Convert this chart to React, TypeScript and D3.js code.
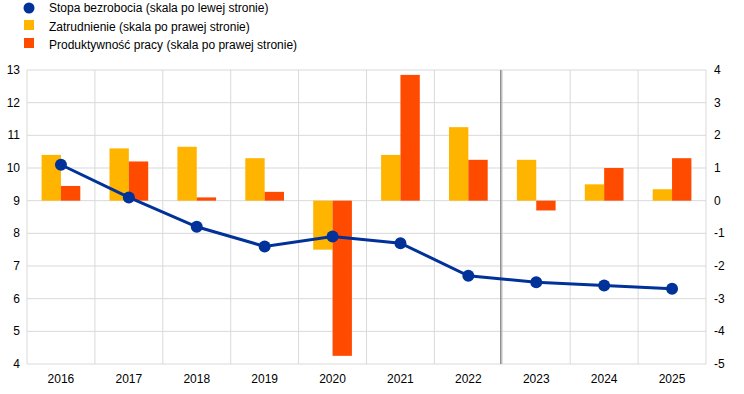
import React from "react";
import * as d3 from "d3";

const years = ["2016", "2017", "2018", "2019", "2020", "2021", "2022", "2023", "2024", "2025"];
const unemployment = [10.1, 9.1, 8.2, 7.6, 7.9, 7.7, 6.7, 6.5, 6.4, 6.3];
const employment = [1.4, 1.6, 1.65, 1.3, -1.5, 1.4, 2.25, 1.25, 0.5, 0.35];
const productivity = [0.45, 1.2, 0.1, 0.27, -4.75, 3.85, 1.25, -0.3, 1.0, 1.3];
const leftTicks = [4, 5, 6, 7, 8, 9, 10, 11, 12, 13];
const rightTicks = [-5, -4, -3, -2, -1, 0, 1, 2, 3, 4];
const legendLabels = [
    "Stopa bezrobocia (skala po lewej stronie)",
    "Zatrudnienie (skala po prawej stronie)",
    "Produktywność pracy (skala po prawej stronie)",
];
const projectionStart = "2023";

const BLUE = "#003299";
const YELLOW = "#FFB400";
const ORANGE = "#FF4B00";
const GRID = "#d9d9d9";

export default function App() {
    const width = 744;
    const height = 394;
    const left = 27;
    const right = 706;
    const top = 70;
    const bottom = 364;

    const x = d3.scaleBand<string>().domain(years).range([left, right]);
    const yL = d3.scaleLinear().domain([4, 13]).range([bottom, top]);
    const yR = d3.scaleLinear().domain([-5, 4]).range([bottom, top]);
    const barW = x.bandwidth() * 0.285;

    const line = d3.line<number>()
        .x((d, i) => (x(years[i]) as number) + x.bandwidth() / 2)
        .y(d => yL(d));

    const font = "'Liberation Sans', Arial, sans-serif";

    return (
        <svg width={width} height={height} style={{ position: "absolute", left: 0, top: 0 }} fontFamily={font}>
            <rect width={width} height={height} fill="white" />
            {/* grid */}
            {leftTicks.map(t => (
                <line key={"h" + t} x1={left} x2={right} y1={yL(t)} y2={yL(t)} stroke={GRID} strokeWidth={1} />
            ))}
            {years.map(y => (
                <line key={"v" + y} x1={x(y) as number} x2={x(y) as number} y1={top} y2={bottom} stroke={GRID} strokeWidth={1} />
            ))}
            <line x1={right} x2={right} y1={top} y2={bottom} stroke={GRID} strokeWidth={1} />
            {/* bars */}
            {years.map((y, i) => {
                const cx = (x(y) as number) + x.bandwidth() / 2;
                return (
                    <g key={"b" + y}>
                        <rect x={cx - barW} width={barW} y={Math.min(yR(employment[i]), yR(0))}
                            height={Math.abs(yR(employment[i]) - yR(0))} fill={YELLOW} />
                        <rect x={cx} width={barW} y={Math.min(yR(productivity[i]), yR(0))}
                            height={Math.abs(yR(productivity[i]) - yR(0))} fill={ORANGE} />
                    </g>
                );
            })}
            {/* projection divider */}
            <line x1={(x(projectionStart) as number) - 1.5} x2={(x(projectionStart) as number) - 1.5}
                y1={top} y2={bottom} stroke="#8c8c8c" strokeWidth={1.5} />
            {/* line */}
            <path d={line(unemployment) as string} fill="none" stroke={BLUE} strokeWidth={3} />
            {unemployment.map((v, i) => (
                <circle key={"c" + i} cx={(x(years[i]) as number) + x.bandwidth() / 2} cy={yL(v)} r={6} fill={BLUE} />
            ))}
            {/* axes labels */}
            {leftTicks.map(t => (
                <text key={"l" + t} x={20} y={yL(t) + 4} textAnchor="end" fontSize={12} fill="#000">{t}</text>
            ))}
            {rightTicks.map(t => (
                <text key={"r" + t} x={714} y={yR(t) + 4} textAnchor="start" fontSize={12} fill="#000">{t}</text>
            ))}
            {years.map(y => (
                <text key={"x" + y} x={(x(y) as number) + x.bandwidth() / 2} y={383} textAnchor="middle" fontSize={12} fill="#000">{y}</text>
            ))}
            {/* legend */}
            <circle cx={29} cy={8} r={5.5} fill={BLUE} />
            <rect x={24} y={20} width={10} height={10} fill={YELLOW} />
            <rect x={24} y={38} width={10} height={10} fill={ORANGE} />
            {legendLabels.map((l, i) => (
                <text key={"lg" + i} x={49} y={12 + i * 18.5} fontSize={12} fill="#000">{l}</text>
            ))}
        </svg>
    );
}
